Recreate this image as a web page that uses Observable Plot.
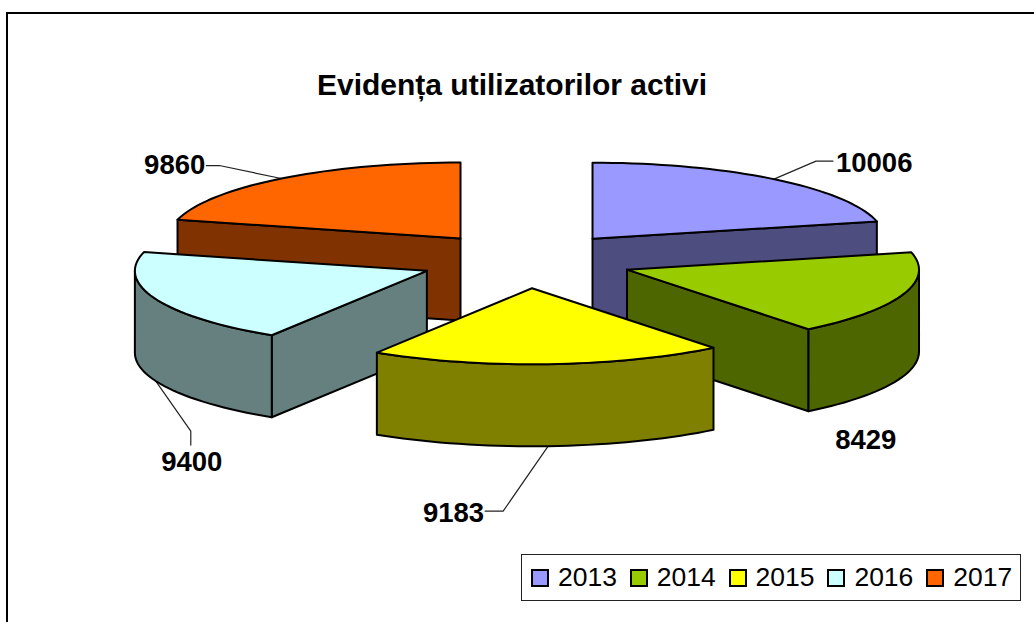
<!DOCTYPE html>
<html>
<head>
<meta charset="utf-8">
<script src="https://cdn.jsdelivr.net/npm/d3@7"></script>
<script src="https://cdn.jsdelivr.net/npm/@observablehq/plot@0.6"></script>
<style>
  html, body { margin: 0; padding: 0; background: #fff; }
  #page { position: relative; width: 1034px; height: 622px; overflow: hidden; font-family: "Liberation Sans", Arial, sans-serif; color: #000; }
  #frame { position: absolute; left: 6px; top: 12px; width: 1040px; height: 630px; border: 2px solid #000; box-sizing: border-box; }
  #title { position: absolute; left: 0; width: 1024px; top: 66px; text-align: center; font-size: 30px; font-weight: bold; line-height: 38px; }
  #chart { position: absolute; left: 0; top: 115px; }
  #legend { position: absolute; left: 521px; top: 554px; width: 500px; height: 47px; box-sizing: border-box; border: 1.5px solid #222; display: flex; align-items: center; padding-left: 9px; font-size: 26.5px; }
  #legend .item { display: flex; align-items: center; flex: none; width: 98.8px; }
  #legend .item:last-child { width: 88px; }
  #legend .swatch { width: 18px; height: 18px; box-sizing: border-box; border: 2px solid #000; margin-right: 9px; }
</style>
</head>
<body>
<div id="page">
  <div id="frame"></div>
  <div id="title">Evidența utilizatorilor activi</div>
  <div id="chart"></div>
  <div id="legend"></div>
</div>
<script>
const years = ["2013", "2014", "2015", "2016", "2017"];
const values = [10006, 8429, 9183, 9400, 9860];
const topColors = ["#9999FF", "#99CC00", "#FFFF00", "#CCFFFF", "#FF6600"];
const wallColors = ["#4D4D80", "#4D6600", "#808000", "#668080", "#803300"];
// label offset from the slice's arc midpoint: elbow and text position
const leaderElbows = [[42, -18, 59, -18], null, [-45, 65, -63, 65], [35, 50, 35, 64], [-62, -13, -75, -13]];
const labelOffsets = [[62, -16, "start"], [-37, 64, "middle"], [-64, 67, "end"], [36, 81, "middle"], [-76, -13, "end"]];

const cx = 525.6, cy = 260, rx = 292, ry = 76, depth = 82, explode = 0.366;
const W = 1034, H = 425, top0 = 115;
const rad = d => d * Math.PI / 180;

const total = d3.sum(values);
let acc = 0;
const slices = values.map((v, i) => {
  const a0 = acc / total * 360; acc += v;
  const a1 = acc / total * 360;
  const mid = (a0 + a1) / 2;
  return {
    i, v, a0, a1, mid,
    ax: cx + explode * rx * Math.sin(rad(mid)),
    ay: cy - explode * ry * Math.cos(rad(mid))
  };
});
const rimPoint = (s, a, dz = 0) => ({x: s.ax + rx * Math.sin(rad(a)), y: s.ay - ry * Math.cos(rad(a)) + dz});
const apex = (s, dz = 0) => ({x: s.ax, y: s.ay + dz});
const arc = (s, from, to, dz = 0) => {
  const n = Math.max(1, Math.ceil(Math.abs(to - from) / 2));
  return d3.range(n + 1).map(k => rimPoint(s, from + (to - from) * k / n, dz));
};
const closed = pts => [...pts, pts[0]];

const face = (pts, fill) => Plot.line(closed(pts), {
  x: "x", y: "y", fill, stroke: "#000", strokeWidth: 2, strokeLinejoin: "round", curve: "linear"
});

const marks = [];
// leader lines drawn beneath the pie
slices.forEach(s => {
  const e = leaderElbows[s.i];
  if (!e) return;
  const dz = (s.mid > 90 && s.mid < 270) ? depth : 0;
  const p = rimPoint(s, s.mid, dz);
  marks.push(Plot.line([p, {x: p.x + e[0], y: p.y + e[1]}, {x: p.x + e[2], y: p.y + e[3]}], {
    x: "x", y: "y", stroke: "#222", strokeWidth: 1.2
  }));
});
// back slices first
[...slices].sort((a, b) => a.ay - b.ay).forEach(s => {
  const fc = wallColors[s.i];
  if (-Math.sin(rad(s.a0)) > 1e-6) {
    const p = rimPoint(s, s.a0);
    marks.push(face([apex(s), p, {x: p.x, y: p.y + depth}, apex(s, depth)], fc));
  }
  if (Math.sin(rad(s.a1)) > 1e-6) {
    const p = rimPoint(s, s.a1);
    marks.push(face([apex(s), p, {x: p.x, y: p.y + depth}, apex(s, depth)], fc));
  }
  const lo = Math.max(s.a0, 90), hi = Math.min(s.a1, 270);
  if (hi > lo) {
    marks.push(face([...arc(s, lo, hi), ...arc(s, hi, lo, depth)], fc));
  }
  marks.push(face([apex(s), ...arc(s, s.a0, s.a1)], topColors[s.i]));
});
// value labels
const labels = slices.map(s => {
  const o = labelOffsets[s.i];
  const dz = (s.mid > 90 && s.mid < 270) ? depth : 0;
  const p = rimPoint(s, s.mid, dz);
  return {x: p.x + o[0], y: p.y + o[1], text: String(s.v), anchor: o[2]};
});
["start", "middle", "end"].forEach(anchor => {
  marks.push(Plot.text(labels.filter(d => d.anchor === anchor), {
    x: "x", y: "y", text: "text", textAnchor: anchor, fontSize: 27.5, fontWeight: "bold",
    fontFamily: "Liberation Sans", fill: "#000"
  }));
});

const chart = Plot.plot({
  width: W, height: H,
  margin: 0,
  x: {domain: [0, W], range: [0, W], axis: null},
  y: {domain: [top0, top0 + H], range: [0, H], axis: null},
  style: {background: "transparent", overflow: "visible"},
  marks
});
document.getElementById("chart").appendChild(chart);

const legend = document.getElementById("legend");
years.forEach((y, i) => {
  const item = document.createElement("div");
  item.className = "item";
  const sw = document.createElement("span");
  sw.className = "swatch";
  sw.style.background = topColors[i];
  const t = document.createElement("span");
  t.textContent = y;
  item.append(sw, t);
  legend.append(item);
});
</script>
</body>
</html>
